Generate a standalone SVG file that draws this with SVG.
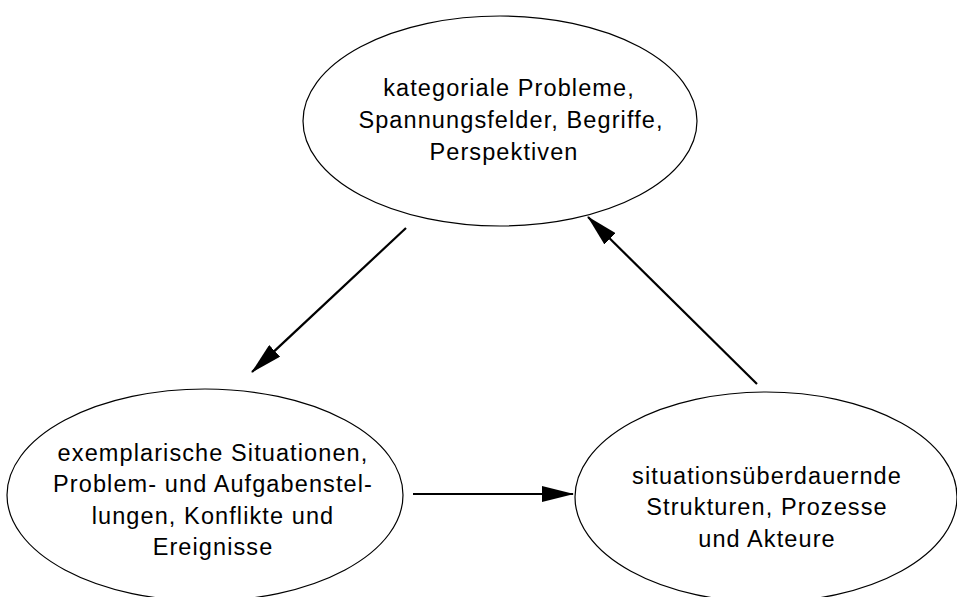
<svg xmlns="http://www.w3.org/2000/svg" width="957" height="597" viewBox="0 0 957 597">
  <defs>
    <marker id="arrow" markerUnits="userSpaceOnUse" markerWidth="32" markerHeight="16" refX="31" refY="8" orient="auto">
      <path d="M0,0 L32,8 L0,16 Z" fill="#000"/>
    </marker>
  </defs>
  <style>
    .node ellipse { fill: #fff; stroke: #000; stroke-width: 1.2; }
    .node text { font-family: "Liberation Sans", Arial, sans-serif; font-size: 23.5px; letter-spacing: 1.1px; fill: #000; text-anchor: middle; }
    .conn line { stroke: #000; stroke-width: 2.2; marker-end: url(#arrow); }
  </style>
  <rect width="957" height="597" fill="#fff"/>
  <g id="node-kategorial" class="node">
    <ellipse cx="500" cy="121" rx="197" ry="105"/>
    <text x="509" y="96">kategoriale Probleme,</text>
    <text x="511" y="128">Spannungsfelder, Begriffe,</text>
    <text x="504" y="160">Perspektiven</text>
  </g>
  <g id="node-exemplarisch" class="node">
    <ellipse cx="205" cy="495" rx="198" ry="106"/>
    <text x="213" y="461">exemplarische Situationen,</text>
    <text x="213" y="492">Problem- und Aufgabenstel-</text>
    <text x="213" y="524">lungen, Konflikte und</text>
    <text x="213" y="555">Ereignisse</text>
  </g>
  <g id="node-strukturen" class="node">
    <ellipse cx="766" cy="497" rx="191" ry="105"/>
    <text x="767" y="484">situationsüberdauernde</text>
    <text x="767" y="515">Strukturen, Prozesse</text>
    <text x="767" y="547">und Akteure</text>
  </g>
  <g id="connectors" class="conn">
    <line x1="406" y1="228" x2="252" y2="372"/>
    <line x1="413" y1="494" x2="573" y2="494"/>
    <line x1="757" y1="384" x2="588" y2="217"/>
  </g>
</svg>
